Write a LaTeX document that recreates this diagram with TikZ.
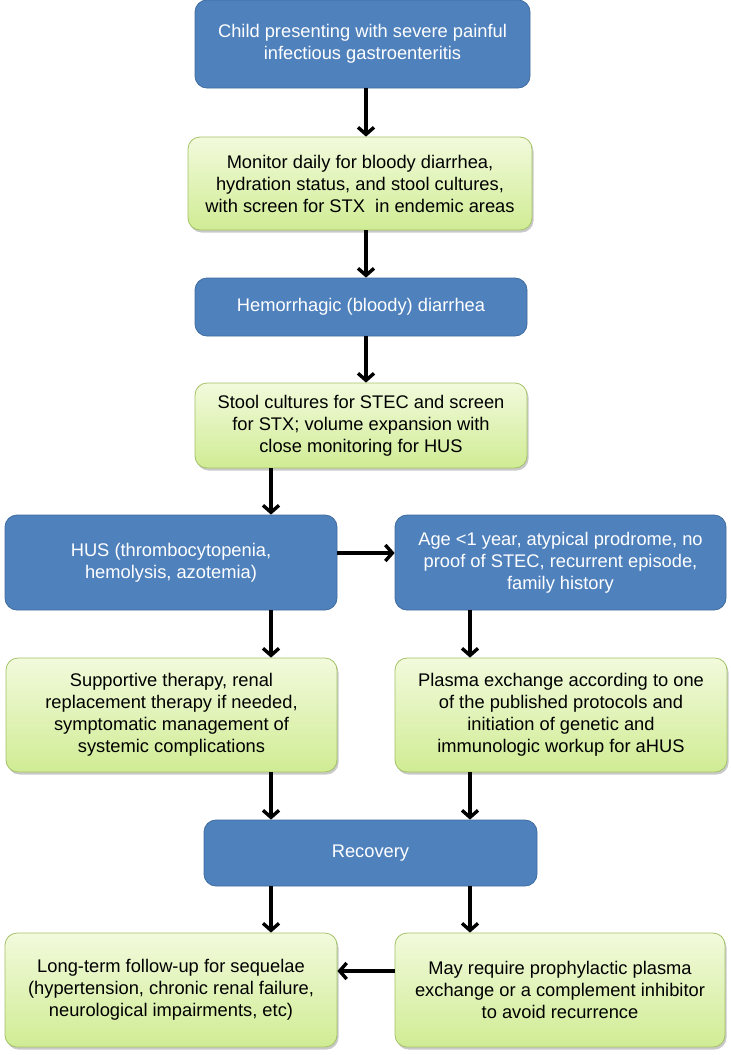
\documentclass[tikz,border=0pt]{standalone}
\usepackage{fontspec}
\setmainfont{Liberation Sans}
\usepackage{tikz}
\usetikzlibrary{arrows.meta,shadows,calc}

\definecolor{boxblue}{HTML}{4F81BD}
\definecolor{boxblueline}{HTML}{3F6C9E}
\definecolor{greentop}{HTML}{F2FADC}
\definecolor{greenbot}{HTML}{D0EC94}
\definecolor{greenline}{HTML}{A3C266}

\begin{document}
\begin{tikzpicture}[x=1pt,y=-1pt,
  bluebox/.style={draw=boxblueline, fill=boxblue, text=white, rounded corners=12pt,
    line width=0.8pt, align=center, inner sep=2pt, font=\fontsize{18.3}{22}\selectfont},
  greenbox/.style={draw=greenline, top color=greentop, bottom color=greenbot,
    rounded corners=12pt, line width=0.8pt, align=center, inner sep=2pt,
    font=\fontsize{18.3}{22}\selectfont,
    drop shadow={shadow xshift=1.5pt, shadow yshift=-2.5pt, opacity=0.3, fill=black!70}},
  arr/.style={-{Straight Barb[length=7pt,width=16pt]}, line width=3.4pt}]
\useasboundingbox (0,0) rectangle (731,1055);

% columns of the arrows
\coordinate (mx) at (366,0);
\coordinate (lx) at (271,0);
\coordinate (rx) at (470,0);

\node[bluebox, minimum width=335pt, minimum height=88pt] (child) at (362.5,44)
  {Child presenting with severe painful\\infectious gastroenteritis};
\node[greenbox, minimum width=344pt, minimum height=93pt] (monitor) at (360,183.5)
  {Monitor daily for bloody diarrhea,\\hydration status, and stool cultures,\\with screen for STX\ \ in endemic areas};
\node[bluebox, minimum width=332pt, minimum height=58pt] (bloody) at (361,307)
  {Hemorrhagic (bloody) diarrhea};
\node[greenbox, minimum width=332pt, minimum height=85pt] (stool) at (361,425.5)
  {Stool cultures for STEC and screen\\for STX; volume expansion with\\close monitoring for HUS};

\node[bluebox, minimum width=332pt, minimum height=95pt] (hus) at (171,562.5)
  {HUS (thrombocytopenia,\\hemolysis, azotemia)};
\node[bluebox, minimum width=331pt, minimum height=95pt] (atyp) at (560.5,562.5)
  {Age <1 year, atypical prodrome, no\\proof of STEC, recurrent episode,\\family history};

\node[greenbox, minimum width=331pt, minimum height=114pt] (support) at (171.5,715)
  {Supportive therapy, renal\\replacement therapy if needed,\\symptomatic management of\\systemic complications};
\node[greenbox, minimum width=332pt, minimum height=114pt] (plasma) at (561,715)
  {Plasma exchange according to one\\of the published protocols and\\initiation of genetic and\\immunologic workup for aHUS};

\node[bluebox, minimum width=333pt, minimum height=66pt] (recovery) at (370.5,853)
  {Recovery};

\node[greenbox, minimum width=332pt, minimum height=114pt] (followup) at (171,990)
  {Long-term follow-up for sequelae\\(hypertension, chronic renal failure,\\neurological impairments, etc)};
\node[greenbox, minimum width=330pt, minimum height=114pt] (prophyl) at (560,990)
  {May require prophylactic plasma\\exchange or a complement inhibitor\\to avoid recurrence};

\draw[arr] (child.south -| mx) -- (monitor.north -| mx);
\draw[arr] (monitor.south -| mx) -- (bloody.north -| mx);
\draw[arr] (bloody.south -| mx) -- (stool.north -| mx);
\draw[arr] (stool.south -| lx) -- (hus.north -| lx);
\draw[arr] ([yshift=9.5pt]hus.east) -- ([yshift=9.5pt]atyp.west);
\draw[arr] (hus.south -| lx) -- (support.north -| lx);
\draw[arr] (atyp.south -| rx) -- (plasma.north -| rx);
\draw[arr] (support.south -| lx) -- (recovery.north -| lx);
\draw[arr] (plasma.south -| rx) -- (recovery.north -| rx);
\draw[arr] (recovery.south -| lx) -- (followup.north -| lx);
\draw[arr] (recovery.south -| rx) -- (prophyl.north -| rx);
\draw[arr] ([yshift=19pt]prophyl.west) -- ([yshift=19pt]followup.east);
\end{tikzpicture}
\end{document}
